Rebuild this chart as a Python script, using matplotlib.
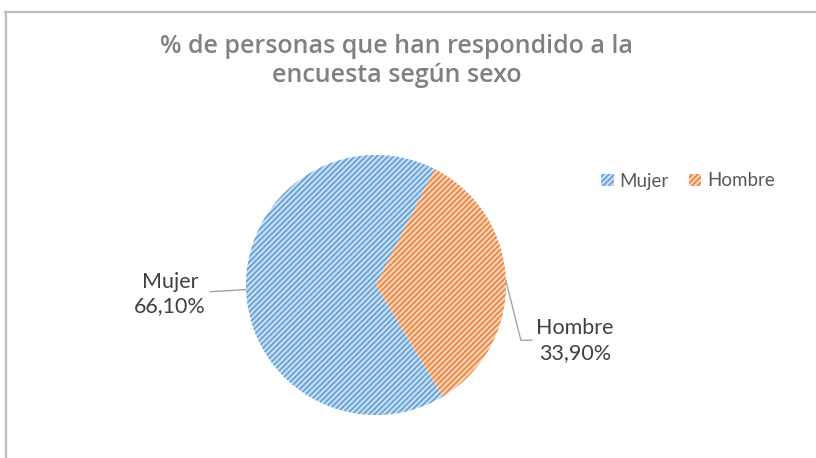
import numpy as np
import matplotlib
matplotlib.use('Agg')
import matplotlib.pyplot as plt
from matplotlib.lines import Line2D

# datos de la encuesta
categorias = ['Mujer', 'Hombre']
porcentajes = [66.10, 33.90]
etiquetas = ['66,10%', '33,90%']
titulo = '% de personas que han respondido a la\nencuesta según sexo'

# colores estilo Excel
caras = ['#c5dcf1', '#fad2b8']
tramas = ['#5b9bd5', '#ed7d31']

plt.rcParams['font.family'] = ['Lato', 'DejaVu Sans']
plt.rcParams['hatch.linewidth'] = 1.1

W, H = 816, 458
fig = plt.figure(figsize=(W / 100, H / 100), dpi=100)

# marco gris del grafico (arriba e izquierda)
fig.add_artist(Line2D([5 / W, 1], [1 - 12 / H, 1 - 12 / H], color='#bfbfbf', lw=1.6))
fig.add_artist(Line2D([6 / W, 6 / W], [0, 1 - 12 / H], color='#bfbfbf', lw=1.6))

# ejes donde va el pastel: centro (376, 285), radio 130 px
cx, cy, r = 376, 285, 130
ax = fig.add_axes([(cx - r) / W, (H - cy - r) / H, 2 * r / W, 2 * r / H])

wedges, _ = ax.pie(porcentajes, colors=caras, startangle=90 - 149, counterclock=False,
                   radius=1, wedgeprops=dict(linewidth=0))
for w, c in zip(wedges, tramas):
    w.set_hatch('//////')
    w.set_edgecolor(c)
ax.set_xlim(-1, 1)
ax.set_ylim(-1, 1)
ax.set_aspect('equal')
ax.axis('off')

# etiquetas con lineas guia
pos_texto = [(-1.585, -0.07), (1.53, -0.425)]
conexiones = ['arc3', 'angle,angleA=180,angleB=-76,rad=0']
for w, cat, et, (tx, ty), con in zip(wedges, categorias, etiquetas, pos_texto, conexiones):
    ang = np.deg2rad((w.theta1 + w.theta2) / 2)
    ax.annotate(cat + '\n' + et, xy=(np.cos(ang), np.sin(ang)), xytext=(tx, ty),
                ha='center', va='center', fontsize=15.5, color='#404040', linespacing=1.3,
                arrowprops=dict(arrowstyle='-', color='#a6a6a6', lw=1, shrinkA=1, shrinkB=0,
                                connectionstyle=con),
                annotation_clip=False)

# leyenda
leg = fig.legend(wedges, categorias, loc='center', bbox_to_anchor=(688 / W, 1 - 181 / H),
                 ncol=2, frameon=False, fontsize=13.5, labelcolor='#595959',
                 handlelength=0.65, handleheight=0.65, handletextpad=0.3, columnspacing=1.1)

# titulo
fig.text(397 / W, 1 - 61 / H, titulo, ha='center', va='center', fontsize=18,
         family=['Open Sans', 'DejaVu Sans'], fontweight='semibold', color='#808080',
         linespacing=1.25)

fig.savefig('out.png', dpi=100)
